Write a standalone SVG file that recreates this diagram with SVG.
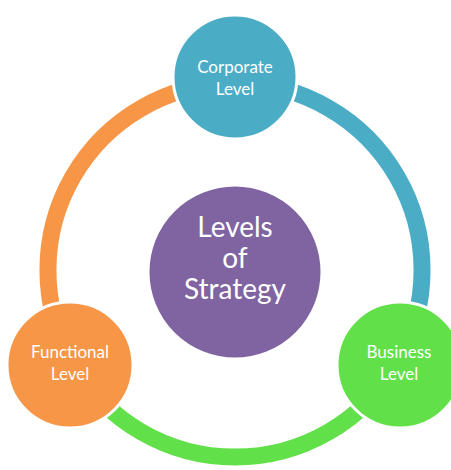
<svg xmlns="http://www.w3.org/2000/svg" width="451" height="470" viewBox="0 0 451 470">
<style>
.arc{fill:none;stroke-width:17}
.node{stroke:#fff;stroke-width:3}
.lbl{font-family:Lato,"Open Sans","Liberation Sans",sans-serif;fill:#fff;text-anchor:middle}
.s{font-size:17px}
.b{font-size:28px}
</style>
<rect width="451" height="470" fill="#fff"/>
<g id="connectors">
<path class="arc" stroke="#F79646" d="M 73,363.5 A 187 187 0 0 1 235,83"/>
<path class="arc" stroke="#4BACC6" d="M 235,83 A 187 187 0 0 1 397,363.5"/>
<path class="arc" stroke="#62E04A" d="M 397,363.5 A 187 187 0 0 1 73,363.5"/>
</g>
<g id="center">
<circle class="node" cx="235" cy="272" r="87" fill="#8064A2"/>
<text class="lbl b" x="235" y="237">Levels</text>
<text class="lbl b" x="235" y="268">of</text>
<text class="lbl b" x="235" y="299">Strategy</text>
</g>
<g id="corporate">
<circle class="node" cx="235" cy="77" r="62" fill="#4BACC6"/>
<text class="lbl s" x="235" y="73">Corporate</text>
<text class="lbl s" x="235" y="95">Level</text>
</g>
<g id="functional">
<circle class="node" cx="70" cy="365" r="63" fill="#F79646"/>
<text class="lbl s" x="70" y="358">Functional</text>
<text class="lbl s" x="70" y="380">Level</text>
</g>
<g id="business">
<circle class="node" cx="400" cy="365" r="63" fill="#62E04A"/>
<text class="lbl s" x="399" y="358">Business</text>
<text class="lbl s" x="399" y="380">Level</text>
</g>
</svg>
